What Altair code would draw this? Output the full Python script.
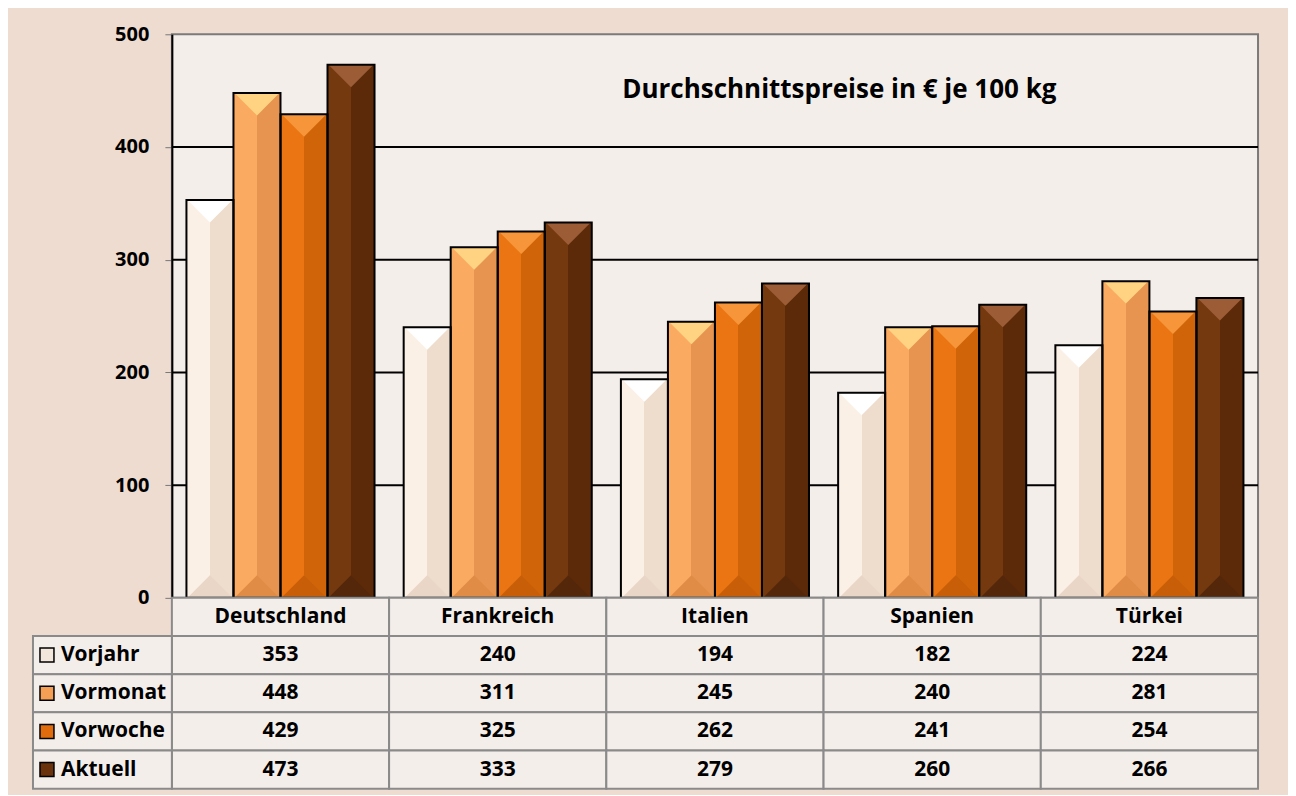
import altair as alt
import pandas as pd

countries = ["Deutschland", "Frankreich", "Italien", "Spanien", "Türkei"]
series = ["Vorjahr", "Vormonat", "Vorwoche", "Aktuell"]
vorjahr = [353, 240, 194, 182, 224]
vormonat = [448, 311, 245, 240, 281]
vorwoche = [429, 325, 262, 241, 254]
aktuell = [473, 333, 279, 260, 266]
y_ticks = [0, 100, 200, 300, 400, 500]
grid_values = [100, 200, 300, 400]
title_text = "Durchschnittspreise in € je 100 kg"

light = ["#FBF0E6", "#FBAA62", "#EA7512", "#74390F"]
dark = ["#EEDCCD", "#E69450", "#CF6409", "#5C2A08"]
top_col = ["#FFFFFF", "#FFD382", "#F7953A", "#9C5C36"]
bot_col = ["#E9D6C6", "#E08C46", "#C95E08", "#55270A"]
swatch = ["#F3E7DC", "#F59F55", "#E06C0D", "#6A320D"]

FONT = "Open Sans"
FS = 21
W, H = 1087, 564

rows = []
for s, vals in zip(series, [vorjahr, vormonat, vorwoche, aktuell]):
    for c, v in zip(countries, vals):
        rows.append({"country": c, "series": s, "value": v, "zero": 0})
df = pd.DataFrame(rows)

x_enc = alt.X("country:N", sort=countries,
              scale=alt.Scale(domain=countries, paddingInner=0, paddingOuter=0), axis=None)
xo_enc = alt.XOffset("series:N", sort=series,
                     scale=alt.Scale(domain=series, paddingInner=0, paddingOuter=0.31))
y_axis = alt.Axis(values=y_ticks, labelFont=FONT, labelFontSize=20, labelFontWeight="bold",
                  labelColor="black", labelPadding=16, tickSize=7, tickColor="#777",
                  tickWidth=1, domainColor="black", domainWidth=2, grid=False, title=None)
y_scale = alt.Scale(domain=[0, 500], nice=False, zero=True)

grid = alt.Chart(pd.DataFrame({"g": grid_values})).mark_rule(color="black", strokeWidth=2).encode(
    y=alt.Y("g:Q", scale=y_scale, axis=y_axis))

layers = [grid]
for i, s in enumerate(series):
    grad = alt.Gradient(gradient="linear", x1=0, x2=1, y1=0, y2=0,
                        stops=[alt.GradientStop(color=light[i], offset=0),
                               alt.GradientStop(color=light[i], offset=0.5),
                               alt.GradientStop(color=dark[i], offset=0.5),
                               alt.GradientStop(color=dark[i], offset=1)])
    base = alt.Chart(df).transform_filter(alt.datum.series == s)
    layers.append(base.mark_bar(color=grad).encode(
        x=x_enc, xOffset=xo_enc, y=alt.Y("value:Q", scale=y_scale, axis=y_axis)))
    layers.append(base.mark_point(shape="M-1,0L1,0L0,1Z", size=2025, filled=True,
                                  fill=top_col[i], opacity=1, strokeWidth=0).encode(
        x=x_enc, xOffset=xo_enc, y=alt.Y("value:Q", scale=y_scale, axis=y_axis)))
    layers.append(base.mark_point(shape="M-1,0L1,0L0,-1Z", size=2025, filled=True,
                                  fill=bot_col[i], opacity=1, strokeWidth=0).encode(
        x=x_enc, xOffset=xo_enc, y=alt.Y("zero:Q", scale=y_scale, axis=y_axis)))

outline = alt.Chart(df).mark_bar(fillOpacity=0, stroke="black", strokeWidth=2).encode(
    x=x_enc, xOffset=xo_enc, y=alt.Y("value:Q", scale=y_scale, axis=y_axis))
layers.append(outline)

title = alt.Chart(pd.DataFrame({"t": [title_text]})).mark_text(
    font=FONT, fontSize=26, fontWeight="bold", color="black", align="center", baseline="middle"
).encode(text="t:N", x=alt.value(668), y=alt.value(56))
layers.append(title)

top = alt.layer(*layers).properties(
    width=W, height=H,
    view=alt.ViewBackground(fill="#F4EEEA", stroke="#7A7A7A", strokeWidth=2))

# table
head_key = "\u200b"
row_domain = [head_key] + series
cells = []
for c in countries:
    cells.append({"row": head_key, "country": c, "txt": c})
for s, vals in zip(series, [vorjahr, vormonat, vorwoche, aktuell]):
    for c, v in zip(countries, vals):
        cells.append({"row": s, "country": c, "txt": str(v)})
cells_df = pd.DataFrame(cells)
labels_df = pd.DataFrame({"row": series})

ty = alt.Y("row:N", sort=row_domain,
           scale=alt.Scale(domain=row_domain, paddingInner=0, paddingOuter=0), axis=None)

cell_rect = alt.Chart(cells_df).mark_rect(fill="#F4EEEB", stroke="#8A8A8A", strokeWidth=2).encode(
    x=x_enc, y=ty)
cell_text = alt.Chart(cells_df).mark_text(
    font=FONT, fontSize=FS, fontWeight="bold", color="black", baseline="middle").encode(
    x=x_enc, y=ty, text="txt:N")
lab_rect = alt.Chart(labels_df).mark_rect(fill="#F4EEEB", stroke="#8A8A8A", strokeWidth=2).encode(
    x=alt.value(-139), x2=alt.value(0), y=ty)
lab_text = alt.Chart(labels_df).mark_text(
    font=FONT, fontSize=FS, fontWeight="bold", color="black", align="left", baseline="middle").encode(
    x=alt.value(-111), y=ty, text="row:N")
lab_sw = alt.Chart(labels_df).mark_square(size=196, opacity=1, stroke="black", strokeWidth=1.5).encode(
    x=alt.value(-125), y=ty,
    fill=alt.Fill("row:N", scale=alt.Scale(domain=series, range=swatch), legend=None))

table = alt.layer(cell_rect, lab_rect, cell_text, lab_text, lab_sw).properties(
    width=W, height=191, view=alt.ViewBackground(strokeWidth=0, fill="transparent"))

chart = alt.vconcat(top, table, spacing=0, bounds="flush").properties(
    padding={"left": 24, "top": 15, "right": 28, "bottom": 5}
).configure(background="#EEDCD1", font=FONT).configure_view(strokeWidth=0)

chart.save("out.html", embed_options={"renderer": "svg", "actions": False})
